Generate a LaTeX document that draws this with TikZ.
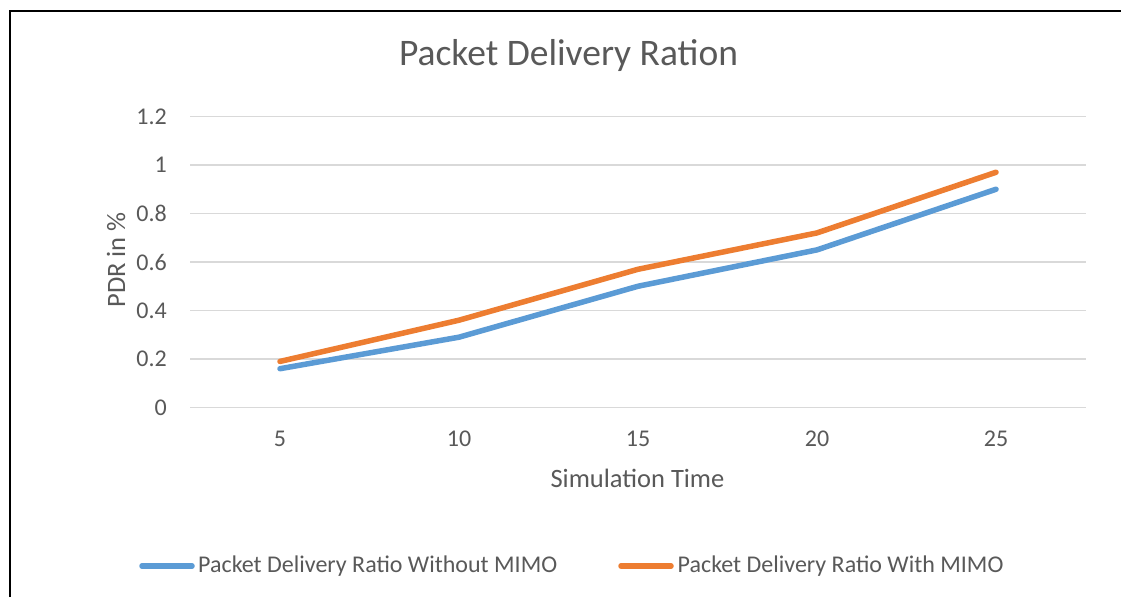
\documentclass[tikz,border=0pt]{standalone}
\usepackage{fontspec}
\setmainfont{Carlito}
\definecolor{txt}{HTML}{595959}
\definecolor{grid}{HTML}{D9D9D9}
\definecolor{serA}{HTML}{5B9BD5}
\definecolor{serB}{HTML}{ED7D31}
\tikzset{
  gridline/.style={draw=grid, line width=1.4pt},
  series/.style={line width=5.5pt, line cap=round, line join=round},
  ticklab/.style={text=txt, font=\fontsize{24}{27}\selectfont, inner sep=0pt},
  axtitle/.style={text=txt, font=\fontsize{26.5}{30}\selectfont, inner sep=0pt},
  legtext/.style={text=txt, font=\fontsize{24}{27}\selectfont, inner sep=0pt, anchor=west},
}
\begin{document}
\begin{tikzpicture}[x=1pt,y=-1pt]
\useasboundingbox (0,0) rectangle (1121,597);
\fill[white] (0,0) rectangle (1121,597);
% frame (left and top edges visible)
\coordinate (fbl) at (9.5,597);
\coordinate (ftl) at (9.5,10.5);
\coordinate (ftr) at (1121,10.5);
\draw[line width=2pt] (fbl) -- (ftl) -- (ftr);
% title
\node[text=txt, font=\fontsize{37.5}{42}\selectfont, inner sep=0pt, anchor=base] (title) at (568.5,65) {Packet Delivery Ration};
% gridlines and y tick labels
\foreach \v/\lab [count=\k] in {0/0,0.2/0.2,0.4/0.4,0.6/0.6,0.8/0.8,1/1,1.2/1.2}{
  \coordinate (gl\k) at (190,407.5-242.5*\v);
  \coordinate (gr\k) at (1086,407.5-242.5*\v);
  \draw[gridline] (gl\k) -- (gr\k);
  \node[ticklab, anchor=east] (yt\k) at (167,407.5-242.5*\v) {\lab};
}
% x tick labels
\foreach \t [count=\k] in {5,10,15,20,25}{
  \node[ticklab, anchor=base] (xt\k) at (280+179*\k-179,446) {\t};
}
% axis titles
\node[axtitle, anchor=base] (xtitle) at (637.5,487) {Simulation Time};
\node[axtitle, rotate=90] (ytitle) at (116,260) {PDR in \%};
% data
\foreach \a/\b [count=\k] in {0.16/0.19,0.29/0.36,0.5/0.57,0.65/0.72,0.9/0.97}{
  \coordinate (a\k) at (280+179*\k-179,407.5-242.5*\a);
  \coordinate (b\k) at (280+179*\k-179,407.5-242.5*\b);
}
\draw[series, serA] (a1) -- (a2) -- (a3) -- (a4) -- (a5);
\draw[series, serB] (b1) -- (b2) -- (b3) -- (b4) -- (b5);
% legend
\coordinate (la1) at (142,566);
\coordinate (la2) at (192,566);
\draw[series, serA] (la1) -- (la2);
\node[legtext] (lta) at (198,566) {Packet Delivery Ratio Without MIMO};
\coordinate (lb1) at (621,566);
\coordinate (lb2) at (671,566);
\draw[series, serB] (lb1) -- (lb2);
\node[legtext] (ltb) at (677.5,566) {Packet Delivery Ratio With MIMO};
\end{tikzpicture}
\end{document}
